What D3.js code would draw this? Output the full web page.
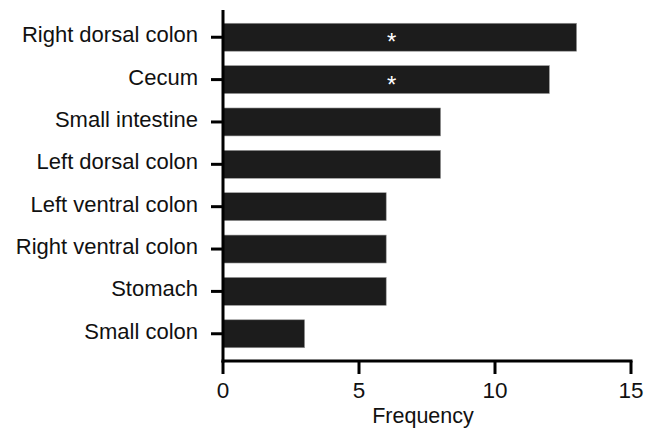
<!DOCTYPE html>
<html>
<head>
<meta charset="utf-8">
<script src="https://cdn.jsdelivr.net/npm/d3@7"></script>
<style>
body{margin:0;background:#fff;}
</style>
</head>
<body>
<div id="chart"></div>
<script>
var sites=['Right dorsal colon','Cecum','Small intestine','Left dorsal colon','Left ventral colon','Right ventral colon','Stomach','Small colon'];
var freq=[13,12,8,8,6,6,6,3];
var starred=[true,true,false,false,false,false,false,false];
var xTicks=[0,5,10,15];

var W=654,H=432;
var svg=d3.select('#chart').append('svg').attr('width',W).attr('height',H)
	.attr('font-family','Liberation Sans, Arial, sans-serif');

var x=d3.scaleLinear().domain([0,15]).range([223,631]);
var y=d3.scaleBand().domain(sites).range([10,361]).paddingInner(0.34).paddingOuter(0.313);

// bars
svg.append('g').selectAll('rect').data(sites).enter().append('rect')
	.attr('x',x(0))
	.attr('y',function(d){return y(d);})
	.attr('width',function(d,i){return x(freq[i])-x(0);})
	.attr('height',y.bandwidth())
	.attr('fill','#1c1c1c')
	.attr('stroke','#9a9a9a')
	.attr('stroke-width',0.6);

// asterisks
svg.append('g').selectAll('text').data(sites.filter(function(d,i){return starred[i];})).enter().append('text')
	.attr('x',x(6.2))
	.attr('y',function(d){return y(d)+y.bandwidth()/2+13;})
	.attr('text-anchor','middle')
	.attr('fill','#fff')
	.attr('font-size',24)
	.text('*');

// y axis
var gy=svg.append('g').attr('transform','translate('+x(0)+',0)');
gy.append('line').attr('x1',0).attr('x2',0).attr('y1',10).attr('y2',362.5)
	.attr('stroke','#000').attr('stroke-width',3);
gy.selectAll('.tk').data(sites).enter().append('line')
	.attr('x1',-12).attr('x2',0)
	.attr('y1',function(d){return y(d)+y.bandwidth()/2;})
	.attr('y2',function(d){return y(d)+y.bandwidth()/2;})
	.attr('stroke','#000').attr('stroke-width',3);
gy.selectAll('.lb').data(sites).enter().append('text')
	.attr('x',-25)
	.attr('y',function(d){return y(d)+y.bandwidth()/2+5;})
	.attr('text-anchor','end')
	.attr('font-size',22)
	.attr('fill','#111')
	.text(function(d){return d;});

// x axis
var gx=svg.append('g').attr('transform','translate(0,361)');
gx.append('line').attr('x1',x(0)-1.5).attr('x2',x(15)+1.5).attr('y1',0).attr('y2',0)
	.attr('stroke','#000').attr('stroke-width',3);
gx.selectAll('.tk').data(xTicks).enter().append('line')
	.attr('x1',function(d){return x(d);}).attr('x2',function(d){return x(d);})
	.attr('y1',0).attr('y2',13)
	.attr('stroke','#000').attr('stroke-width',3);
gx.selectAll('.lb').data(xTicks).enter().append('text')
	.attr('x',function(d){return x(d);})
	.attr('y',37)
	.attr('text-anchor','middle')
	.attr('font-size',22.5)
	.attr('fill','#111')
	.text(function(d){return d;});

svg.append('text')
	.attr('x',423).attr('y',423)
	.attr('text-anchor','middle')
	.attr('font-size',21.5)
	.attr('fill','#111')
	.text('Frequency');
</script>
</body>
</html>
